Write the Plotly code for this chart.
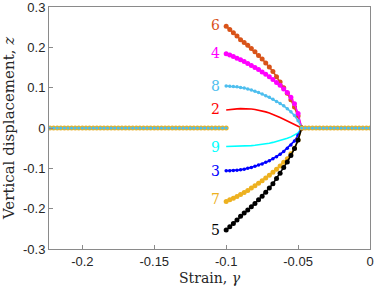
import plotly.graph_objects as go

# ---------------- data ----------------
strain_left = [-0.2225, -0.22, -0.2175, -0.215, -0.2125, -0.21, -0.2075, -0.205, -0.2025, -0.2,
               -0.1975, -0.195, -0.1925, -0.19, -0.1875, -0.185, -0.1825, -0.18, -0.1775, -0.175,
               -0.1725, -0.17, -0.1675, -0.165, -0.1625, -0.16, -0.1575, -0.155, -0.1525, -0.15,
               -0.1475, -0.145, -0.1425, -0.14, -0.1375, -0.135, -0.1325, -0.13, -0.1275, -0.125,
               -0.1225, -0.12, -0.1175, -0.115, -0.1125, -0.11, -0.1075, -0.105, -0.1025, -0.1]
strain_right = [-0.0475, -0.045, -0.0425, -0.04, -0.0375, -0.035, -0.0325, -0.03, -0.0275, -0.025,
                -0.0225, -0.02, -0.0175, -0.015, -0.0125, -0.01, -0.0075, -0.005, -0.0025, 0.0]

strain_branch = [-0.1, -0.0975, -0.095, -0.0925, -0.09, -0.0875, -0.085, -0.0825, -0.08, -0.0775,
                 -0.075, -0.0725, -0.07, -0.0675, -0.065, -0.0625, -0.06, -0.0575, -0.055, -0.0525,
                 -0.05, -0.0475]

z6 = [0.252, 0.244, 0.236, 0.228, 0.219, 0.212, 0.205, 0.197, 0.189, 0.180,
      0.171, 0.161, 0.151, 0.140, 0.127, 0.114, 0.100, 0.086, 0.070, 0.052, 0.030, 0.0]
z4 = [0.184, 0.181, 0.177, 0.173, 0.169, 0.165, 0.160, 0.155, 0.150, 0.145,
      0.139, 0.133, 0.127, 0.120, 0.113, 0.106, 0.097, 0.088, 0.076, 0.060, 0.036, 0.0]
z8 = [0.104, 0.1035, 0.103, 0.102, 0.1005, 0.099, 0.097, 0.094, 0.091, 0.088,
      0.084, 0.080, 0.076, 0.071, 0.066, 0.061, 0.055, 0.048, 0.040, 0.031, 0.018, 0.0]
z2 = [0.0446, 0.046, 0.047, 0.0475, 0.048, 0.048, 0.0478, 0.047, 0.046, 0.0445,
      0.0425, 0.040, 0.037, 0.034, 0.030, 0.026, 0.022, 0.018, 0.013, 0.009, 0.004, 0.0]
z9 = [-0.046, -0.0459, -0.0457, -0.0455, -0.0451, -0.0447, -0.0442, -0.0436, -0.0428, -0.0418,
      -0.0406, -0.0392, -0.0376, -0.0357, -0.0336, -0.0312, -0.0285, -0.0255, -0.022, -0.018, -0.012, 0.0]
z3 = [-0.106, -0.1058, -0.1053, -0.1045, -0.1035, -0.102, -0.100, -0.098, -0.095, -0.092,
      -0.089, -0.085, -0.081, -0.076, -0.071, -0.065, -0.058, -0.050, -0.042, -0.032, -0.018, 0.0]
z7 = [-0.182, -0.178, -0.174, -0.170, -0.165, -0.160, -0.155, -0.149, -0.143, -0.137,
      -0.131, -0.124, -0.117, -0.110, -0.102, -0.094, -0.085, -0.076, -0.064, -0.050, -0.030, 0.0]
z5 = [-0.253, -0.245, -0.237, -0.228, -0.219, -0.211, -0.203, -0.195, -0.187, -0.178,
      -0.169, -0.159, -0.149, -0.138, -0.125, -0.112, -0.098, -0.084, -0.068, -0.051, -0.030, 0.0]

z_zero_left = [0.0] * len(strain_left)
z_zero_right = [0.0] * len(strain_right)

label_names = ["6", "4", "8", "2", "9", "3", "7", "5"]
label_y = [0.255, 0.185, 0.105, 0.047, -0.047, -0.106, -0.177, -0.253]
label_x = -0.1075

x_ticks = [-0.2, -0.15, -0.1, -0.05, 0]
x_ticktext = ["-0.2", "-0.15", "-0.1", "-0.05", "0"]
y_ticks = [-0.3, -0.2, -0.1, 0, 0.1, 0.2, 0.3]
y_ticktext = ["-0.3", "-0.2", "-0.1", "0", "0.1", "0.2", "0.3"]

# ---------------- figure ----------------
fig = go.Figure()

c6, c4, c8, c2, c9, c3, c7, c5 = "#D95319", "#FF00FF", "#4DBEEE", "#FF0000", "#00FFFF", "#0000FF", "#EDB120", "#000000"

branches = [
    (z6, c6, 5), (z4, c4, 5), (z8, c8, 3.5), (z2, c2, 0),
    (z9, c9, 0), (z3, c3, 3.5), (z7, c7, 5), (z5, c5, 5),
]
for z, col, ms in branches:
    fig.add_trace(go.Scatter(
        x=strain_branch, y=z,
        mode="lines+markers" if ms > 0 else "lines",
        line=dict(color=col, width=1.6),
        marker=dict(color=col, size=ms),
        showlegend=False, hoverinfo="skip"))

# zero (trivial) branches
for xs, zs in [(strain_left, z_zero_left), (strain_right, z_zero_right)]:
    fig.add_trace(go.Scatter(x=xs, y=zs, mode="lines+markers",
                             line=dict(color=c7, width=2.5),
                             marker=dict(color=c7, size=5),
                             showlegend=False, hoverinfo="skip"))
    fig.add_trace(go.Scatter(x=xs, y=zs, mode="markers",
                             marker=dict(color=c8, size=3.2),
                             showlegend=False, hoverinfo="skip"))

label_colors = [c6, c4, c8, c2, c9, c3, c7, c5]
for name, yv, col in zip(label_names, label_y, label_colors):
    fig.add_annotation(x=label_x, y=yv, text=name, showarrow=False,
                       font=dict(family="DejaVu Serif", size=14, color=col),
                       xanchor="center", yanchor="middle")

axis_common = dict(
    showline=True, mirror=True, linecolor="#8a8a8a", linewidth=1,
    ticks="inside", ticklen=4, tickcolor="#8a8a8a",
    showgrid=False, zeroline=False, automargin=False,
    ticklabeloverflow="allow",
    tickfont=dict(family="Liberation Sans", size=13, color="#262626"),
)

fig.update_xaxes(range=[-0.2232, 0], tickvals=x_ticks, ticktext=x_ticktext,
                 ticklabelstandoff=0,
                 title=dict(text="Strain, <i>γ</i>",
                            font=dict(family="DejaVu Serif", size=14, color="#262626"),
                            standoff=5),
                 **axis_common)
fig.update_yaxes(range=[-0.3, 0.3], tickvals=y_ticks, ticktext=y_ticktext,
                 ticklabelstandoff=0,
                 title=dict(text="Vertical displacement, <i>z</i>",
                            font=dict(family="DejaVu Serif", size=15, color="#262626"),
                            standoff=8),
                 **axis_common)

fig.update_layout(
    width=374, height=291,
    margin=dict(l=49, r=4, t=7, b=42),
    paper_bgcolor="white", plot_bgcolor="white",
)

fig.write_html("out.html", config={"displayModeBar": False},
               post_script="document.body.style.margin='0';document.body.style.padding='0';")
